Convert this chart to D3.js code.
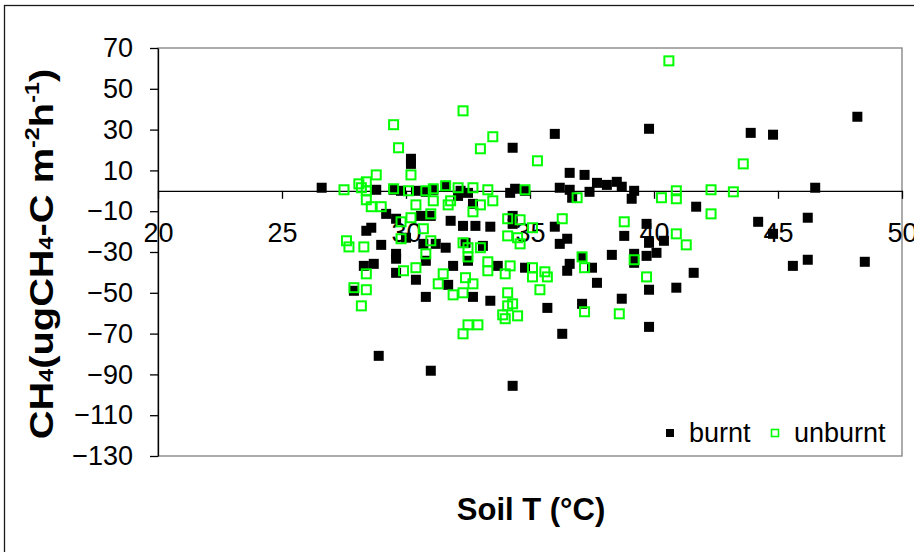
<!doctype html>
<html lang="en">
	<head>
	<meta charset="utf-8">
	<script src="https://cdnjs.cloudflare.com/ajax/libs/d3/7.8.5/d3.min.js"></script>

	<style type="text/css">
		body {
			margin: 0;
			background: #fff;
			font-family: 'Liberation Sans', Arial, sans-serif;
		}
		.axis text {
			font-family: 'Liberation Sans', Arial, sans-serif;
			font-size: 27px;
			fill: #000;
		}
		.axis line, .axis path {
			stroke: #000;
			stroke-width: 1.3;
		}
	</style>
	</head>
	<body>
	<script>

	// Soil temperature (°C) and CH4 flux for burnt plots
	const burntT = [26.6, 30.2, 30.2, 28.8, 29.5, 29.8, 30.4, 30.8, 31.1, 31.6, 32.1, 32.2, 32.5, 32.7, 34.3,
		29.2, 29.6, 30.6, 31.0, 31.8, 32.3, 32.8, 33.4, 28.4, 28.6, 29.0, 30.0, 30.7, 31.2, 31.6, 32.4, 33.1,
		29.6, 29.6, 30.8, 32.5, 28.3, 28.7, 29.6, 30.4, 31.9, 33.7, 27.9, 31.7, 30.8, 32.7, 33.4, 28.9, 31.0, 34.3,
		39.8, 36.0, 36.6, 37.2, 37.7, 38.1, 38.5, 38.7, 39.2, 39.1, 36.2, 36.6, 36.7, 37.4, 34.2, 34.4, 34.8,
		41.7, 34.3, 34.3, 36.0, 36.5, 36.2, 38.8, 39.7, 39.8, 38.3, 39.2, 39.2, 39.7, 40.1, 40.4, 36.6, 36.5,
		37.1, 37.5, 34.8, 41.6, 37.7, 39.8, 40.9, 38.7, 37.1, 35.7, 39.8, 36.3,
		46.5, 44.2, 46.2, 44.8, 45.6, 46.2, 48.5, 43.9, 44.8, 48.2];
	const burntCH4 = [1.5, 15.7, 13.2, 0.5, 0.5, 0, 0, -0.5, 0.5, 2.0, -2.5, 0, -1.0, -6.4, 21.1,
		-11.3, -13.7, -12.3, -12.3, -14.7, -17.2, -17.2, -17.6, -19.6, -18.1, -26.5, -23.0, -26.0, -26.0, -27.9, -25.5, -27.0,
		-30.9, -33.3, -34.3, -34.3, -36.8, -35.8, -40.2, -43.6, -36.8, -36.8, -49.0, -46.1, -52.0, -52.0, -53.9, -80.9, -88.2, -95.6,
		30.4, 27.9, 8.8, 7.8, 3.9, 2.9, 4.4, 2.0, 0, -3.9, 1.5, 0.5, -3.4, -0.5, -1.0, 1.0, 0,
		-7.8, -12.3, -16.2, -17.6, -23.5, -26.0, -22.1, -16.2, -25.5, -31.4, -30.9, -35.3, -31.9, -30.4, -24.5, -35.8, -39.2,
		-32.4, -37.7, -37.7, -40.2, -45.1, -48.5, -47.5, -52.9, -55.4, -57.4, -66.7, -70.1,
		1.5, -15.2, -13.2, -21.1, -36.8, -33.8, -34.8, 28.4, 27.5, 36.3];

	// Soil temperature (°C) and CH4 flux for unburnt plots
	const unburntT = [32.3, 29.5, 33.5, 29.7, 33.0, 28.8, 30.2, 27.5, 28.1, 28.2, 28.4, 28.4, 29.5, 30.1, 30.8,
		31.1, 31.1, 31.6, 32.1, 32.7, 33.3, 33.5, 33.0, 32.7, 31.8, 31.7, 28.4, 28.6, 29.0, 30.4, 31.0, 30.2,
		29.8, 30.7, 29.8, 27.6, 27.7, 28.3, 31.0, 32.3, 33.0, 34.1, 34.1, 30.8, 32.5, 32.5, 33.3, 33.3, 34.0,
		28.4, 29.9, 30.4, 31.5, 32.4, 32.7, 31.3, 27.9, 28.4, 32.3, 31.9, 28.2, 34.1, 34.1, 34.3, 33.9, 34.0,
		32.5, 32.9, 32.3, 35.3, 34.8, 36.9, 40.3, 40.9, 40.9, 36.3, 38.8, 34.6, 34.5, 34.6, 35.1, 40.9, 41.3,
		37.1, 37.2, 39.2, 39.7, 34.2, 35.1, 35.1, 35.6, 35.7, 35.4, 34.5, 37.2, 38.6, 40.6, 43.6, 42.3, 43.2, 42.3];
	const unburntCH4 = [39.2, 32.4, 26.5, 21.1, 20.6, 7.8, 7.8, 0.5, 3.4, 1.5, 4.4, 0, 1.0, 0, 0,
		1.0, -4.9, 2.5, 1.5, 1.5, 0.5, -4.9, -6.9, -10.3, -4.9, -6.9, -4.4, -7.8, -7.8, -6.9, -11.3, -13.2,
		-15.2, -18.6, -23.5, -24.5, -27.5, -27.5, -24.5, -25.5, -27.9, -13.7, -22.1, -30.9, -27.9, -32.4, -34.8, -39.2, -40.7,
		-40.7, -39.2, -37.7, -40.7, -42.6, -45.6, -45.6, -47.5, -48.5, -50.0, -51.0, -56.4, -50.0, -56.4, -55.4, -60.8, -62.7,
		-65.7, -65.7, -70.1, 14.7, 0.5, -3.4, -3.4, 0, -3.9, -13.7, -15.2, -14.2, -23.0, -26.0, -18.1, -21.1, -26.5,
		-32.4, -37.7, -33.8, -42.2, -36.8, -37.7, -42.2, -39.7, -42.2, -48.5, -61.3, -59.3, -60.3, 63.7, 13.2, 0.5, -0.5, -11.3];

	const xTicks = [20, 25, 30, 35, 40, 45, 50];
	const yTicks = [70, 50, 30, 10, -10, -30, -50, -70, -90, -110, -130];

	const burnt = burntT.map((t, i) => [t, burntCH4[i]]);
	const unburnt = unburntT.map((t, i) => [t, unburntCH4[i]]);

	// Canvas and plot area
	const w = 914;
	const h = 552;
	const plotLeft = 158, plotRight = 902, plotTop = 48, plotBottom = 456;

	const xScale = d3.scaleLinear()
					.domain([20, 50])
					.range([plotLeft, plotRight]);

	const yScale = d3.scaleLinear()
					.domain([-130, 70])
					.range([plotBottom, plotTop]);

	const svg = d3.select("body")
				.append("svg")
				.attr("width", w)
				.attr("height", h);

	// outer chart border (runs off the picture to the right and bottom)
	svg.append("rect")
	.attr("x", 4.5)
	.attr("y", 5.5)
	.attr("width", 1000)
	.attr("height", 700)
	.attr("fill", "none")
	.attr("stroke", "#1a1a1a")
	.attr("stroke-width", 1.3);

	// plot area border
	svg.append("rect")
	.attr("x", plotLeft)
	.attr("y", plotTop)
	.attr("width", plotRight - plotLeft)
	.attr("height", plotBottom - plotTop)
	.attr("fill", "none")
	.attr("stroke", "#808080")
	.attr("stroke-width", 1.3);

	// Axes
	const yAxis = d3.axisLeft(yScale)
					.tickValues(yTicks)
					.tickSizeInner(8)
					.tickSizeOuter(0)
					.tickPadding(17);

	const xAxis = d3.axisBottom(xScale)
					.tickValues(xTicks)
					.tickSizeInner(8)
					.tickSizeOuter(0)
					.tickPadding(24);

	svg.append("g")
	.attr("class", "axis")
	.attr("transform", "translate(" + plotLeft + ", 0)")
	.call(yAxis);

	svg.append("g")
	.attr("class", "axis")
	.attr("transform", "translate(0, " + yScale(0) + ")")
	.call(xAxis);

	// Burnt: filled black squares
	svg.append("g")
	.selectAll("rect")
	.data(burnt)
	.enter()
	.append("rect")
	.attr("x", d => xScale(d[0]) - 5)
	.attr("y", d => yScale(d[1]) - 5)
	.attr("width", 10)
	.attr("height", 10)
	.attr("fill", "#000");

	// Unburnt: open green squares
	svg.append("g")
	.selectAll("rect")
	.data(unburnt)
	.enter()
	.append("rect")
	.attr("x", d => xScale(d[0]) - 4.5)
	.attr("y", d => yScale(d[1]) - 4.5)
	.attr("width", 9)
	.attr("height", 9)
	.attr("fill", "none")
	.attr("stroke", "#00ff00")
	.attr("stroke-width", 2);

	// Axis titles (y title is stretched along its length like the original)
	const yTitle = svg.append("text")
	.attr("transform", "translate(53, 254) rotate(-90) scale(1.17, 1)")
	.attr("text-anchor", "middle")
	.attr("font-weight", "bold")
	.attr("font-size", 34)
	.attr("fill", "#000");

	yTitle.append("tspan").text("CH");
	yTitle.append("tspan").attr("font-size", 20).text("4");
	yTitle.append("tspan").text("(ugCH");
	yTitle.append("tspan").attr("font-size", 20).text("4");
	yTitle.append("tspan").text("-C m");
	yTitle.append("tspan").attr("font-size", 20).attr("dy", -14).text("-2");
	yTitle.append("tspan").attr("dy", 14).text("h");
	yTitle.append("tspan").attr("font-size", 20).attr("dy", -14).text("-1");
	yTitle.append("tspan").attr("dy", 14).text(")");

	svg.append("text")
	.attr("x", 531)
	.attr("y", 520)
	.attr("text-anchor", "middle")
	.attr("font-weight", "bold")
	.attr("font-size", 31)
	.attr("fill", "#000")
	.text("Soil T (°C)");

	// Legend
	const legend = svg.append("g").attr("id", "legend");

	legend.append("rect").attr("x", 666).attr("y", 429).attr("width", 8).attr("height", 8).attr("fill", "#000");
	legend.append("text").attr("x", 689).attr("y", 442).attr("font-size", 27).text("burnt");
	legend.append("rect").attr("x", 771.5).attr("y", 429.5).attr("width", 7).attr("height", 7)
		.attr("fill", "none").attr("stroke", "#00ff00").attr("stroke-width", 1.6);
	legend.append("text").attr("x", 794).attr("y", 442).attr("font-size", 27).text("unburnt");

	</script>
	</body>
</html>
